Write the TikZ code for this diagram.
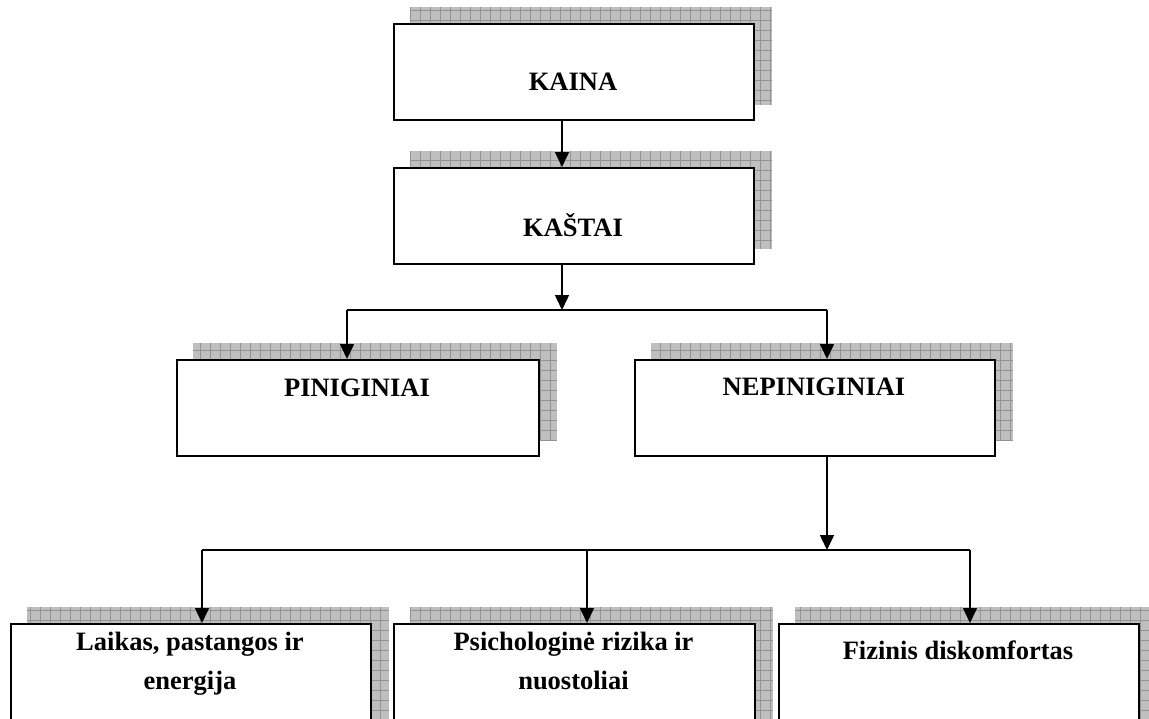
\documentclass[tikz,border=0pt]{standalone}
\usepackage{fontspec}
\setmainfont{Liberation Serif}
\usetikzlibrary{arrows.meta,backgrounds}

% hatched drop shadow up and to the right of a box node
\newcommand\castshadow[1]{%
  \fill[gray!50] ([shift={(17,-16)}]#1.north west) rectangle ([shift={(17,-16)}]#1.south east);
  \draw[gray!85, line width=0.45pt, step=10pt]
    ([shift={(17,-16)}]#1.north west) grid ([shift={(17,-16)}]#1.south east);
}

\begin{document}
\begin{tikzpicture}[x=1pt,y=-1pt,
  box/.style={draw, line width=2pt, fill=white, anchor=north west,
    minimum width=360pt, minimum height=96pt, inner sep=0pt},
  boxtext/.style={anchor=base, inner sep=0pt,
    font=\bfseries\fontsize{26.5}{39}\selectfont},
  conn/.style={line width=1.5pt},
  arr/.style={conn, -{Triangle[width=14pt,length=15pt]}}]

\useasboundingbox (0,0) rectangle (1149,718);

% boxes
\node[box] (kaina)   at (393,23)  {};
\node[box] (kastai)  at (393,167) {};
\node[box, minimum width=362pt] (pinig)   at (176,359) {};
\node[box] (nepinig) at (634,359) {};
\node[box, minimum height=120pt] (laikas)  at (10,623)  {};
\node[box, minimum height=120pt, minimum width=361pt] (psich) at (393,623) {};
\node[box, minimum height=120pt] (fizinis) at (778,623) {};

\begin{scope}[on background layer]
  \castshadow{kaina}
  \castshadow{kastai}
  \castshadow{pinig}
  \castshadow{nepinig}
  \castshadow{laikas}
  \castshadow{psich}
  \castshadow{fizinis}
\end{scope}

% texts
\node[boxtext] (t-kaina)   at (573,90)  {KAINA};
\node[boxtext] (t-kastai)  at (573,236) {KAŠTAI};
\node[boxtext] (t-pinig)   at (357,396) {PINIGINIAI};
\node[boxtext] (t-nepinig) at (814,395) {NEPINIGINIAI};
\node[boxtext] (t-laikas)  at (190,650)
  {\begin{tabular}[t]{@{}c@{}}Laikas, pastangos ir\\ energija\end{tabular}};
\node[boxtext] (t-psich)   at (573.5,650)
  {\begin{tabular}[t]{@{}c@{}}Psichologinė rizika ir\\ nuostoliai\end{tabular}};
\node[boxtext] (t-fizinis) at (958,659) {Fizinis diskomfortas};

% junction points
\coordinate (a1) at (562,0);
\coordinate (j1)  at (562,310);
\coordinate (j1l) at (347,310);
\coordinate (j1r) at (827,310);
\coordinate (n1)  at (827,0);
\coordinate (j2)  at (827,550);
\coordinate (j2l) at (202,550);
\coordinate (j2m) at (587,550);
\coordinate (j2r) at (970,550);

% connectors
\draw[arr] (a1 |- kaina.south) -- (a1 |- kastai.north);
\draw[arr] (a1 |- kastai.south) -- (j1);
\draw[conn] (j1l) -- (j1r);
\draw[arr] (j1l) -- (j1l |- pinig.north);
\draw[arr] (j1r) -- (j1r |- nepinig.north);
\draw[arr] (n1 |- nepinig.south) -- (j2);
\draw[conn] (j2l) -- (j2r);
\draw[arr] (j2l) -- (j2l |- laikas.north);
\draw[arr] (j2m) -- (j2m |- psich.north);
\draw[arr] (j2r) -- (j2r |- fizinis.north);

\end{tikzpicture}
\end{document}
